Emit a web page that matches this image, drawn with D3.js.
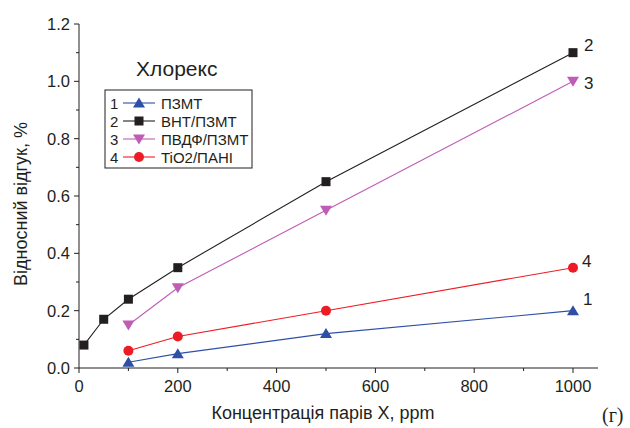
<!DOCTYPE html>
<html>
<head>
<meta charset="utf-8">
<script src="https://cdn.jsdelivr.net/npm/d3@7"></script>
<style>
  body { margin: 0; background: #fff; }
  svg text { font-family: Arial, "Liberation Sans", sans-serif; fill: #231f20; }
</style>
</head>
<body>
<svg id="chart" width="630" height="428"></svg>
<script>
// series data
var s1x = [100, 200, 500, 1000];
var s1y = [0.02, 0.05, 0.12, 0.20];
var s2x = [10, 50, 100, 200, 500, 1000];
var s2y = [0.08, 0.17, 0.24, 0.35, 0.65, 1.10];
var s3x = [100, 200, 500, 1000];
var s3y = [0.15, 0.28, 0.55, 1.00];
var s4x = [100, 200, 500, 1000];
var s4y = [0.06, 0.11, 0.20, 0.35];

var names = ['ПЗМТ', 'ВНТ/ПЗМТ', 'ПВДФ/ПЗМТ', 'TiO2/ПАНІ'];
var xTicks = [0, 200, 400, 600, 800, 1000];
var yTicks = [0.0, 0.2, 0.4, 0.6, 0.8, 1.0, 1.2];

var svg = d3.select('#chart');

var x = d3.scaleLinear().domain([0, 1000]).range([79, 573]);
var y = d3.scaleLinear().domain([0, 1.2]).range([368, 24]);

// axes
var xAxis = svg.append('g').attr('transform', 'translate(0,368)');
xAxis.append('line').attr('x1', 79).attr('x2', 598).attr('stroke', '#231f20');
xAxis.selectAll('.mn').data(d3.range(0, 1001, 100)).enter().append('line')
	.attr('x1', d => x(d)).attr('x2', d => x(d))
	.attr('y1', 0).attr('y2', d => d % 200 == 0 ? 5 : 3)
	.attr('stroke', '#231f20');
xAxis.selectAll('text').data(xTicks).enter().append('text')
	.attr('x', d => x(d)).attr('y', 24).attr('text-anchor', 'middle')
	.attr('font-size', 16.5).text(d => d);

var yAxis = svg.append('g').attr('transform', 'translate(79,0)');
yAxis.append('line').attr('y1', 24).attr('y2', 368).attr('stroke', '#231f20');
yAxis.selectAll('.mn').data(d3.range(0, 13)).enter().append('line')
	.attr('y1', d => y(d / 10)).attr('y2', d => y(d / 10))
	.attr('x1', 0).attr('x2', d => d % 2 == 0 ? -5 : -3)
	.attr('stroke', '#231f20');
yAxis.selectAll('text').data(yTicks).enter().append('text')
	.attr('x', -9).attr('y', d => y(d) + 6).attr('text-anchor', 'end')
	.attr('font-size', 16.5).text(d => d.toFixed(1));

svg.append('text').attr('x', 323).attr('y', 419).attr('text-anchor', 'middle')
	.attr('font-size', 18).text('Концентрація парів X, ppm');
svg.append('text').attr('transform', 'translate(27,204) rotate(-90)')
	.attr('text-anchor', 'middle').attr('font-size', 18).text('Відносний відгук, %');
svg.append('text').attr('x', 602).attr('y', 422)
	.style('font-family', '"Liberation Serif", "DejaVu Serif", serif')
	.attr('font-size', 20).text('(г)');

svg.append('text').attr('x', 136).attr('y', 76).attr('font-size', 21).text('Хлорекс');

// series
var series = [
	{ xs: s1x, ys: s1y, color: '#2d4fa6', sym: 'up', label: '1', lx: 583, ly: 305 },
	{ xs: s2x, ys: s2y, color: '#231f20', sym: 'sq', label: '2', lx: 584, ly: 51 },
	{ xs: s3x, ys: s3y, color: '#bf5cb5', sym: 'dn', label: '3', lx: 584, ly: 89 },
	{ xs: s4x, ys: s4y, color: '#ed1c24', sym: 'ci', label: '4', lx: 582, ly: 267 }
];

function drawSym(g, sym, color, cx, cy) {
	if (sym == 'sq') {
		g.append('rect').attr('x', cx - 4.5).attr('y', cy - 4.5).attr('width', 9).attr('height', 9).attr('fill', color);
	} else if (sym == 'ci') {
		g.append('circle').attr('cx', cx).attr('cy', cy).attr('r', 5).attr('fill', color);
	} else if (sym == 'up') {
		g.append('path').attr('d', 'M' + cx + ',' + (cy - 5.5) + 'L' + (cx + 6) + ',' + (cy + 4.5) + 'L' + (cx - 6) + ',' + (cy + 4.5) + 'Z').attr('fill', color);
	} else {
		g.append('path').attr('d', 'M' + cx + ',' + (cy + 5.5) + 'L' + (cx + 6) + ',' + (cy - 4.5) + 'L' + (cx - 6) + ',' + (cy - 4.5) + 'Z').attr('fill', color);
	}
}

var line = d3.line().x(d => x(d[0])).y(d => y(d[1]));

series.forEach(function (s) {
	var pts = s.xs.map((v, i) => [v, s.ys[i]]);
	var g = svg.append('g');
	g.append('path').attr('d', line(pts)).attr('fill', 'none').attr('stroke', s.color).attr('stroke-width', 1.1);
	pts.forEach(p => drawSym(g, s.sym, s.color, x(p[0]), y(p[1])));
	svg.append('text').attr('x', s.lx).attr('y', s.ly).attr('font-size', 17).text(s.label);
});

// legend
var leg = svg.append('g');
leg.append('rect').attr('x', 105).attr('y', 90).attr('width', 147).attr('height', 78)
	.attr('fill', '#fff').attr('stroke', '#231f20').attr('stroke-width', 1);
series.forEach(function (s, i) {
	var cy = 103 + i * 18;
	leg.append('text').attr('x', 110).attr('y', cy + 5.5).attr('font-size', 15).text(s.label);
	leg.append('line').attr('x1', 123).attr('x2', 155).attr('y1', cy).attr('y2', cy).attr('stroke', s.color).attr('stroke-width', 1.1);
	drawSym(leg, s.sym, s.color, 139, cy);
	leg.append('text').attr('x', 161).attr('y', cy + 5.5).attr('font-size', 15).text(names[i]);
});
</script>
</body>
</html>
